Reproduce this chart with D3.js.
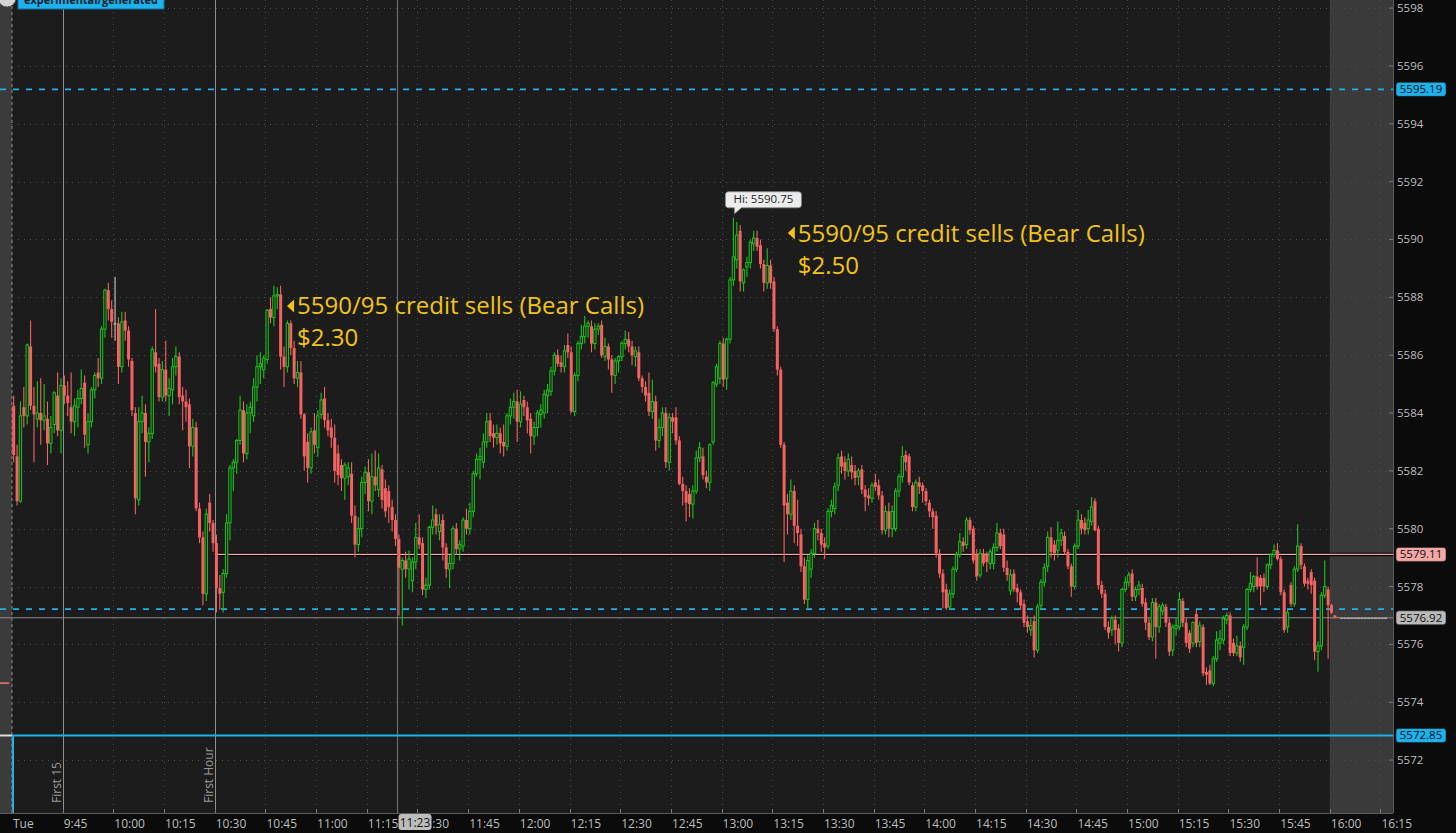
<!DOCTYPE html>
<html><head><meta charset="utf-8">
<script src="https://cdn.jsdelivr.net/npm/d3@7"></script>
<style>
html,body{margin:0;padding:0;background:#0c0c0c;overflow:hidden}
svg{display:block;font-family:"Open Sans",sans-serif}
</style></head><body>
<svg id="chart" width="1456" height="833"></svg>
<script>
// ---- 1-minute candles, 9:30 onward (index = minutes after 9:30) ----
const opens = [
5584.25,5582.5,5580.95,5584.2,5583.9,5586.3,5584.25,5583.8,5584.0,5583.75,
5583.8,5582.95,5583.6,5584.6,5583.4,5584.95,5584.6,5584.2,5583.7,5584.2,
5584.5,5585.05,5582.9,5583.7,5584.8,5585.4,5585.2,5586.9,5588.25,5587.6,
5587.1,5587.1,5585.6,5587.2,5586.85,5585.8,5584.0,5581.0,5583.7,5584.0,
5583.0,5583.3,5586.1,5585.7,5584.55,5585.5,5584.6,5584.8,5585.6,5585.95,
5584.6,5584.4,5584.3,5582.85,5583.5,5580.7,5579.7,5577.75,5580.9,5580.2,
5579.5,5577.95,5577.8,5578.45,5580.2,5582.1,5582.3,5583.05,5584.1,5582.6,
5584.0,5583.9,5584.9,5585.6,5585.5,5585.85,5587.6,5587.3,5588.05,5588.1,
5585.95,5585.6,5587.1,5586.25,5585.2,5585.4,5583.95,5583.0,5582.1,5583.4,
5582.8,5583.95,5584.5,5583.75,5583.5,5583.15,5582.6,5582.2,5581.75,5581.8,
5581.9,5580.45,5579.45,5580.0,5581.6,5581.95,5580.95,5581.8,5581.35,5582.05,
5581.4,5581.3,5580.75,5580.3,5579.65,5578.6,5578.9,5578.6,5578.2,5578.85,
5579.7,5579.5,5577.9,5578.05,5580.05,5580.5,5579.9,5580.3,5579.35,5578.6,
5578.8,5580.0,5579.3,5579.4,5580.3,5580.0,5580.6,5581.9,5582.4,5582.3,
5583.0,5583.75,5583.3,5583.15,5583.3,5583.0,5582.85,5583.9,5584.2,5584.4,
5583.7,5584.45,5584.2,5583.8,5583.2,5583.5,5583.95,5584.0,5584.6,5584.75,
5585.45,5586.0,5585.75,5585.6,5586.35,5586.1,5584.05,5585.3,5586.4,5586.65,
5587.0,5587.0,5586.4,5586.9,5587.05,5585.95,5586.3,5585.85,5585.3,5585.8,
5585.95,5586.4,5586.55,5586.3,5585.95,5586.1,5585.2,5584.9,5584.7,5584.05,
5584.4,5583.05,5583.5,5584.0,5582.3,5583.85,5583.85,5583.05,5581.55,5581.3,
5581.2,5580.85,5581.3,5582.45,5582.5,5581.8,5581.6,5583.0,5585.0,5585.2,
5586.4,5585.2,5586.55,5588.6,5589.3,5590.3,5588.5,5589.05,5589.2,5589.85,
5590.05,5589.8,5589.15,5588.5,5589.1,5588.55,5586.9,5585.5,5582.9,5580.9,
5580.5,5581.3,5580.1,5579.8,5578.7,5577.55,5578.6,5579.15,5580.0,5579.85,
5579.5,5579.4,5580.6,5580.7,5581.5,5582.5,5582.3,5582.0,5582.2,5582.0,
5581.8,5582.05,5581.35,5581.15,5581.05,5581.6,5581.5,5581.15,5579.95,5580.6,
5580.0,5580.0,5581.3,5581.8,5582.55,5582.5,5581.5,5580.75,5581.6,5581.5,
5581.3,5580.9,5580.6,5580.45,5579.15,5578.45,5577.9,5577.3,5577.75,5578.6,
5579.1,5579.55,5579.45,5580.3,5580.0,5579.1,5578.4,5579.15,5579.1,5578.8,
5578.8,5579.35,5579.85,5579.8,5578.65,5577.85,5578.45,5577.95,5577.8,5577.4,
5576.8,5576.5,5576.8,5575.8,5577.35,5578.15,5578.7,5579.7,5579.45,5579.25,
5579.6,5579.75,5579.2,5578.7,5578.0,5579.4,5580.3,5580.2,5580.0,5580.25,
5580.95,5580.0,5578.05,5577.75,5576.6,5576.5,5576.85,5576.55,5576.05,5577.9,
5578.15,5578.45,5577.65,5577.9,5577.95,5577.45,5576.75,5576.25,5577.45,5576.6,
5577.15,5577.3,5576.75,5575.8,5576.55,5576.6,5577.5,5576.75,5576.4,5576.05,
5577.05,5576.1,5576.6,5575.05,5575.1,5574.65,5575.5,5576.05,5576.15,5576.85,
5577.0,5576.05,5575.7,5575.95,5575.9,5576.6,5577.9,5578.0,5578.35,5578.3,
5578.3,5578.0,5578.75,5579.1,5579.25,5578.95,5577.8,5576.6,5578.05,5577.4,
5578.6,5579.4,5578.7,5578.2,5578.5,5578.2,5575.75,5575.95,5577.7,5577.9,
5577.35,5577.0,5576.95,5576.92,5576.92,5576.92,5576.92,5576.92,5576.92,5576.92,
5576.92,5576.92,5576.92,5576.92,5576.92,5576.92,5576.92];
const highs = [
5584.6,5582.9,5584.4,5584.9,5586.4,5587.2,5584.9,5585.1,5585.2,5585.0,
5584.4,5583.9,5584.75,5585.4,5585.2,5585.3,5585.1,5585.4,5584.5,5584.8,
5585.5,5585.3,5584.0,5584.9,5585.4,5585.9,5587.0,5588.3,5588.5,5587.9,
5588.7,5587.3,5587.5,5587.5,5587.0,5585.9,5584.2,5584.2,5584.6,5584.3,
5583.5,5586.3,5587.6,5585.9,5585.8,5586.5,5585.2,5585.9,5586.3,5586.1,
5584.9,5584.8,5584.5,5583.8,5583.7,5580.9,5579.9,5580.7,5581.2,5580.3,
5579.8,5578.4,5578.6,5580.5,5582.2,5582.4,5583.1,5584.6,5584.4,5584.3,
5584.4,5585.2,5586.0,5586.1,5586.0,5587.6,5588.0,5588.4,5588.35,5588.4,
5586.3,5587.2,5587.2,5586.5,5585.8,5585.8,5584.0,5583.3,5583.5,5584.0,
5584.1,5584.7,5584.9,5584.0,5583.8,5583.6,5582.9,5582.4,5582.3,5582.3,
5582.3,5580.8,5580.4,5581.8,5582.15,5582.4,5582.6,5582.7,5582.6,5582.2,
5581.7,5581.5,5581.0,5580.5,5579.8,5579.0,5579.2,5579.25,5579.0,5580.2,
5580.5,5579.7,5578.3,5580.1,5580.8,5580.7,5580.5,5580.5,5579.5,5579.1,
5580.1,5580.2,5579.6,5580.4,5580.7,5580.9,5582.0,5582.6,5582.8,5583.3,
5584.0,5584.0,5583.6,5583.6,5583.5,5583.6,5584.0,5584.5,5584.7,5584.8,
5584.75,5584.6,5584.4,5584.0,5583.7,5584.1,5584.3,5584.8,5585.0,5585.6,
5586.1,5586.2,5586.0,5586.35,5586.75,5586.3,5585.4,5586.5,5587.05,5587.35,
5587.2,5587.2,5587.1,5587.1,5587.2,5586.6,5586.4,5586.0,5585.9,5586.0,
5586.5,5586.85,5586.8,5586.5,5586.3,5586.3,5585.3,5585.1,5585.4,5585.15,
5584.6,5583.8,5584.2,5584.2,5584.0,5584.0,5584.2,5583.2,5581.8,5581.5,
5581.4,5581.5,5582.7,5583.0,5582.8,5582.0,5582.95,5585.1,5585.7,5586.5,
5586.6,5586.6,5588.7,5590.75,5590.6,5590.5,5589.0,5589.4,5590.0,5590.3,
5590.3,5590.0,5589.3,5589.7,5589.3,5588.7,5587.0,5585.6,5583.0,5581.2,
5581.7,5581.5,5581.0,5580.0,5579.0,5579.1,5579.3,5580.2,5580.3,5580.0,
5579.7,5580.7,5581.0,5581.6,5582.6,5582.7,5582.5,5582.6,5582.5,5582.2,
5582.1,5582.2,5581.5,5581.4,5581.6,5581.9,5581.7,5581.3,5580.8,5580.9,
5580.8,5581.4,5581.9,5582.85,5582.7,5582.6,5581.6,5581.7,5581.8,5581.6,
5581.4,5581.0,5580.7,5580.6,5579.3,5578.6,5578.1,5577.9,5578.7,5579.2,
5579.85,5579.7,5580.4,5580.4,5580.1,5579.3,5579.3,5579.3,5579.2,5579.3,
5579.5,5580.2,5580.0,5580.0,5578.9,5578.6,5578.6,5578.1,5577.9,5577.55,
5577.0,5576.9,5577.0,5577.4,5578.25,5578.8,5579.9,5580.05,5579.6,5580.25,
5580.0,5579.9,5579.3,5578.8,5579.5,5580.65,5580.5,5580.4,5580.65,5581.1,
5581.05,5580.1,5578.2,5577.9,5576.8,5577.0,5577.0,5576.7,5577.95,5578.35,
5578.5,5578.6,5578.0,5578.2,5578.1,5577.6,5576.9,5577.6,5577.6,5577.4,
5577.45,5577.4,5576.9,5576.7,5576.9,5577.8,5577.6,5576.9,5576.5,5576.8,
5577.2,5576.8,5576.7,5575.2,5575.3,5575.6,5576.45,5576.5,5577.0,5577.1,
5577.1,5576.2,5576.3,5576.1,5576.7,5577.95,5578.5,5578.4,5579.0,5578.4,
5578.45,5578.8,5579.15,5579.45,5579.5,5579.05,5577.9,5577.2,5578.15,5578.7,
5580.15,5579.5,5578.8,5578.3,5578.6,5578.3,5576.1,5577.8,5578.9,5578.0,
5577.4,5577.0,5576.95,5576.92,5576.92,5576.92,5576.92,5576.92,5576.92,5576.92,
5576.92,5576.92,5576.92,5576.92,5576.92,5576.92,5576.92];
const lows = [
5582.3,5580.8,5580.9,5583.5,5583.6,5584.1,5582.3,5583.5,5582.9,5583.4,
5582.2,5582.6,5583.3,5583.2,5582.6,5584.3,5583.9,5583.3,5583.2,5583.5,
5584.3,5582.8,5582.6,5583.5,5584.5,5584.9,5585.0,5586.6,5587.2,5586.6,
5586.5,5585.0,5585.4,5586.5,5585.6,5583.9,5580.5,5580.8,5583.3,5581.8,
5582.3,5583.1,5585.4,5584.4,5584.4,5584.4,5583.9,5584.3,5585.3,5584.3,
5583.4,5583.7,5582.1,5582.5,5580.6,5579.5,5577.35,5577.5,5579.9,5579.2,
5577.1,5577.2,5577.1,5578.3,5579.6,5581.3,5581.9,5582.9,5582.3,5582.4,
5583.3,5583.7,5584.4,5585.0,5585.2,5585.7,5587.1,5587.0,5587.6,5585.5,
5584.9,5585.4,5586.0,5585.0,5584.9,5583.8,5582.0,5581.6,5581.9,5582.6,
5582.5,5583.8,5583.5,5583.2,5582.8,5581.6,5581.5,5581.3,5581.0,5581.5,
5580.2,5579.0,5579.2,5579.7,5581.2,5580.6,5580.5,5581.3,5581.1,5580.7,
5580.4,5580.2,5579.9,5579.4,5577.0,5576.65,5578.3,5577.9,5577.8,5578.6,
5579.3,5577.7,5577.6,5577.9,5579.8,5579.8,5579.6,5578.9,5578.3,5577.95,
5578.6,5579.1,5578.9,5579.2,5579.8,5579.8,5580.4,5581.8,5581.7,5582.1,
5582.8,5583.0,5582.8,5582.9,5582.6,5582.5,5582.7,5583.6,5583.8,5583.0,
5583.5,5583.9,5583.3,5582.6,5582.9,5583.2,5583.5,5583.8,5584.0,5584.6,
5585.3,5585.6,5585.4,5585.4,5585.9,5584.0,5583.9,5585.1,5586.2,5586.4,
5586.6,5586.1,5586.2,5586.7,5585.9,5585.8,5585.5,5584.7,5585.0,5585.4,
5585.8,5586.2,5586.1,5585.65,5585.6,5585.1,5584.7,5584.4,5583.9,5583.8,
5582.7,5582.8,5583.2,5582.1,5582.0,5583.3,5582.9,5581.5,5580.8,5580.25,
5580.4,5580.35,5581.2,5582.3,5581.7,5581.4,5581.3,5582.9,5584.9,5585.0,
5584.9,5584.8,5586.4,5588.4,5589.0,5588.2,5588.2,5588.7,5589.0,5589.6,
5589.6,5589.0,5588.2,5588.3,5588.3,5586.8,5585.3,5582.8,5578.85,5579.8,
5580.3,5579.5,5579.4,5578.5,5577.4,5577.25,5578.3,5579.0,5579.6,5579.2,
5578.95,5579.3,5580.4,5580.5,5581.3,5581.9,5581.7,5581.8,5581.7,5581.5,
5581.5,5581.2,5580.6,5580.8,5580.9,5581.3,5581.0,5579.8,5579.8,5579.7,
5579.7,5579.9,5581.1,5581.6,5582.0,5581.5,5580.6,5580.6,5581.2,5580.9,
5580.8,5580.4,5580.0,5579.0,5578.3,5577.25,5577.2,5577.2,5577.6,5578.5,
5579.0,5579.2,5579.3,5579.8,5578.8,5578.2,5578.3,5578.7,5578.5,5578.6,
5578.6,5579.2,5579.3,5578.5,5578.2,5577.7,5577.8,5577.45,5577.2,5576.6,
5576.4,5576.3,5575.55,5575.7,5577.2,5578.0,5578.5,5579.0,5578.9,5579.0,
5579.4,5579.1,5578.6,5577.65,5577.9,5579.3,5579.8,5579.8,5579.8,5580.1,
5579.9,5577.9,5577.6,5576.5,5576.2,5576.3,5576.0,5575.75,5575.9,5577.8,
5578.0,5577.5,5577.5,5577.7,5577.3,5576.5,5576.15,5576.1,5575.5,5576.4,
5577.0,5576.6,5575.6,5575.6,5576.3,5576.5,5576.6,5575.9,5575.7,5575.9,
5575.9,5575.9,5574.9,5574.6,5574.6,5574.55,5575.4,5575.8,5576.0,5576.7,
5575.6,5575.6,5575.6,5575.4,5575.3,5576.5,5577.8,5577.8,5577.9,5577.35,
5577.8,5577.9,5578.6,5579.0,5578.9,5577.7,5576.4,5576.4,5577.3,5577.3,
5578.5,5578.6,5578.0,5577.9,5577.75,5575.45,5575.05,5575.8,5577.6,5575.5,
5577.05,5576.9,5576.92,5576.92,5576.92,5576.92,5576.92,5576.92,5576.92,5576.92,
5576.92,5576.92,5576.92,5576.92,5576.92,5576.92,5576.92];
const closes = [
5582.55,5580.95,5583.9,5583.9,5586.35,5584.25,5583.95,5584.0,5583.75,5583.9,
5582.95,5583.5,5584.7,5583.4,5584.95,5584.6,5584.35,5583.7,5584.25,5584.5,
5584.85,5583.25,5583.7,5584.8,5585.3,5585.2,5586.9,5588.25,5587.6,5587.15,
5587.1,5585.6,5587.15,5586.85,5585.85,5584.1,5581.05,5583.7,5584.0,5583.0,
5583.3,5586.2,5585.6,5584.55,5585.5,5584.6,5584.85,5585.6,5585.95,5584.55,
5584.4,5584.2,5582.85,5583.5,5580.7,5579.7,5577.75,5580.5,5580.2,5579.5,
5577.95,5577.75,5578.45,5580.2,5582.1,5582.3,5583.05,5584.1,5582.6,5584.0,
5584.2,5584.9,5585.6,5585.7,5585.9,5587.55,5587.3,5588.05,5588.1,5585.95,
5585.6,5587.1,5586.25,5585.2,5585.4,5583.95,5582.5,5582.1,5583.35,5582.9,
5583.9,5584.45,5583.75,5583.4,5583.15,5582.0,5581.85,5581.75,5582.2,5582.1,
5580.45,5579.45,5580.0,5581.6,5581.95,5580.95,5581.8,5581.5,5582.1,5581.0,
5580.6,5580.75,5580.3,5579.65,5578.65,5578.9,5578.6,5578.95,5578.85,5579.7,
5579.45,5577.9,5578.05,5580.05,5580.3,5580.1,5580.15,5579.35,5578.6,5578.8,
5580.0,5579.3,5579.45,5580.3,5580.0,5580.6,5581.9,5582.4,5582.5,5583.0,
5583.7,5583.2,5583.15,5583.3,5582.95,5582.85,5583.9,5584.2,5584.4,5583.7,
5584.3,5584.2,5583.75,5583.2,5583.5,5584.0,5584.1,5584.65,5584.8,5585.45,
5586.0,5585.7,5585.6,5586.15,5586.1,5584.05,5585.3,5586.4,5586.65,5587.0,
5587.1,5586.4,5586.9,5587.0,5586.0,5586.3,5585.85,5585.3,5585.8,5585.95,
5586.4,5586.55,5586.3,5586.0,5586.15,5585.2,5584.9,5584.6,5584.05,5584.4,
5583.05,5583.5,5584.0,5582.3,5583.85,5583.7,5583.05,5581.55,5581.3,5580.9,
5580.85,5581.3,5582.45,5582.8,5581.85,5581.6,5582.9,5585.05,5585.6,5586.4,
5585.15,5586.55,5588.6,5589.4,5590.15,5588.55,5588.95,5589.2,5589.9,5590.05,
5589.75,5589.15,5588.5,5589.1,5588.5,5586.9,5585.5,5582.9,5580.8,5580.5,
5581.3,5580.1,5579.85,5578.7,5577.55,5578.9,5579.15,5580.0,5579.85,5579.45,
5579.35,5580.6,5580.8,5581.45,5582.45,5582.15,5582.0,5582.4,5581.95,5581.75,
5582.0,5581.35,5581.1,5581.05,5581.5,5581.45,5581.15,5579.95,5580.6,5580.0,
5580.6,5581.3,5581.8,5582.5,5582.3,5581.6,5580.75,5581.6,5581.45,5581.3,
5580.95,5580.6,5580.4,5579.15,5578.45,5577.8,5577.25,5577.75,5578.6,5579.1,
5579.55,5579.4,5580.3,5579.95,5578.9,5578.35,5579.15,5578.8,5578.85,5579.2,
5579.35,5579.85,5579.4,5578.65,5578.4,5578.4,5577.9,5577.8,5577.35,5576.75,
5576.6,5576.65,5575.8,5577.3,5578.15,5578.65,5579.7,5579.2,5579.15,5579.6,
5579.85,5579.2,5578.7,5578.0,5579.4,5580.3,5580.0,5579.95,5580.3,5580.75,
5579.95,5578.05,5577.75,5576.6,5576.4,5576.9,5576.5,5576.05,5577.9,5578.15,
5578.4,5577.65,5577.9,5578.05,5577.4,5576.75,5576.25,5577.45,5576.6,5577.3,
5577.35,5576.75,5575.75,5576.6,5576.65,5577.55,5576.75,5576.05,5575.85,5576.75,
5576.05,5576.65,5575.0,5574.95,5574.65,5575.5,5576.15,5576.2,5576.9,5577.0,
5575.7,5575.7,5575.95,5575.55,5576.6,5577.9,5578.1,5578.35,5578.0,5578.0,
5578.0,5578.75,5579.1,5579.25,5578.95,5577.8,5576.5,5577.1,5577.4,5578.6,
5579.4,5578.75,5578.1,5578.1,5578.05,5575.75,5575.95,5577.7,5578.0,5577.35,
5577.1,5576.92,5576.92,5576.92,5576.92,5576.92,5576.92,5576.92,5576.92,5576.92,
5576.92,5576.92,5576.92,5576.92,5576.92,5576.92,5576.92];

// ---- axes ----
const priceTicks = [5572,5574,5576,5578,5580,5582,5584,5586,5588,5590,5592,5594,5596,5598];
const timeTickMinutes = [0,15,30,45,60,75,90,105,120,135,150,165,180,195,210,225,240,255,270,285,300,315,330,345,360,375,390,405];
const timeTickLabels = ["Tue","9:45","10:00","10:15","10:30","10:45","11:00","11:15","11:30","11:45","12:00","12:15","12:30","12:45","13:00","13:15","13:30","13:45","14:00","14:15","14:30","14:45","15:00","15:15","15:30","15:45","16:00","16:15"];

// ---- study / price levels ----
const levelValues = [5595.19, 5577.22, 5579.11, 5576.92, 5572.85];
const levelLabels = ["5595.19", null, "5579.11", "5576.92", "5572.85"];
const levelStarts = [0, 0, 60, 0, 0];          // minute where each level begins
const markerMinutes = [15, 60];                 // First 15 / First Hour
const markerLabels = ["First 15", "First Hour"];
const cursorMinute = 113.5, cursorLabel = "11:23";
const sessionEndMinute = 390;

// ---- notes ----
const noteMinutes = [81.4, 229.6];
const notePrices = [5587.70, 5590.22];
const noteLine1 = ["5590/95 credit sells (Bear Calls)", "5590/95 credit sells (Bear Calls)"];
const noteLine2 = ["$2.30", "$2.50"];

// ================= drawing =================
const svg = d3.select("#chart");
const L = 12, R = 1393, T = 0, B = 813;
const x = d3.scaleLinear().domain([0, 408.7]).range([L, R]);
const y = d3.scaleLinear().domain([5570.17, 5598.28]).range([B, T]);

const C = {bg:"#1c1c1c", outer:"#0b0b0b", strip:"#3b3b3b", ah:"#3a3a3a", grid:"#4d4d4d",
  up:"#18c818", dn:"#f46262", cyan:"#1db2ec", pink:"#f2a6a6", gray:"#a3a3a3", note:"#f2c414", axisTxt:"#bdbdbd"};

svg.append("rect").attr("width",1456).attr("height",833).attr("fill",C.outer);
svg.append("rect").attr("x",L).attr("y",T).attr("width",R-L).attr("height",B-T).attr("fill",C.bg);
svg.append("rect").attr("x",0).attr("y",T).attr("width",L).attr("height",B-T).attr("fill",C.strip);
svg.append("line").attr("x1",L).attr("x2",L).attr("y1",T).attr("y2",B)
  .attr("stroke","#8a8a8a").attr("stroke-dasharray","3,3");
svg.append("rect").attr("x",x(sessionEndMinute)).attr("y",T).attr("width",R-x(sessionEndMinute)).attr("height",B-T).attr("fill",C.ah);

// dotted grid
const grid = svg.append("g");
grid.selectAll(".hg").data(priceTicks).join("line")
  .attr("x1",L).attr("x2",R).attr("y1",d=>Math.round(y(d))+0.5).attr("y2",d=>Math.round(y(d))+0.5)
  .attr("stroke",C.grid).attr("stroke-dasharray","1,5");
grid.selectAll(".vg").data(timeTickMinutes.slice(1)).join("line")
  .attr("x1",d=>Math.round(x(d))+0.5).attr("x2",d=>Math.round(x(d))+0.5).attr("y1",T).attr("y2",B)
  .attr("stroke",C.grid).attr("stroke-dasharray","1,5");

// marker verticals
svg.selectAll(".mk").data(markerMinutes).join("line")
  .attr("x1",d=>Math.round(x(d))+0.5).attr("x2",d=>Math.round(x(d))+0.5).attr("y1",T).attr("y2",B)
  .attr("stroke","#8f8f8f").attr("stroke-width",1);
svg.selectAll(".mkt").data(markerMinutes).join("text")
  .attr("transform",d=>`translate(${x(d)-2},${B-10}) rotate(-90)`)
  .attr("fill","#9a9a9a").attr("font-size",12).text((d,i)=>markerLabels[i]);
svg.append("line").attr("x1",x(cursorMinute)+2).attr("x2",x(cursorMinute)+2).attr("y1",T).attr("y2",B)
  .attr("stroke","#6c6c6c").attr("stroke-width",1.2);

// level lines
const lv = svg.append("g");
levelValues.forEach((v,i)=>{
  const yy = y(v), x0 = x(levelStarts[i]);
  if (i===0 || i===1) {
    lv.append("line").attr("x1",0).attr("x2",R).attr("y1",yy).attr("y2",yy)
      .attr("stroke",C.cyan).attr("stroke-width",1.6).attr("stroke-dasharray","6,7");
  } else if (i===2) {
    lv.append("line").attr("x1",x0).attr("x2",R).attr("y1",yy).attr("y2",yy).attr("stroke","#000").attr("stroke-width",3.5);
    lv.append("line").attr("x1",x0).attr("x2",R).attr("y1",yy).attr("y2",yy).attr("stroke",C.pink).attr("stroke-width",1.3);
  } else if (i===3) {
    lv.append("line").attr("x1",0).attr("x2",R).attr("y1",yy).attr("y2",yy).attr("stroke","#8e8e8e").attr("stroke-width",1);
  } else {
    lv.append("path").attr("d",`M${x0+1},${B}L${x0+1},${yy}L${R},${yy}`)
      .attr("fill","none").attr("stroke",C.cyan).attr("stroke-width",2);
    lv.append("line").attr("x1",0).attr("x2",L).attr("y1",yy).attr("y2",yy).attr("stroke","#dddddd").attr("stroke-width",2);
  }
});
svg.append("line").attr("x1",0).attr("x2",9).attr("y1",y(5574.66)).attr("y2",y(5574.66)).attr("stroke","#f07a7a").attr("stroke-width",1.5);

// candles
const idx = d3.range(opens.length);
const cg = svg.append("g");
const colorOf = i => closes[i]>opens[i] ? C.up : (closes[i]<opens[i] ? C.dn : "#c8c8c8");
cg.selectAll(".wick").data(idx).join("line")
  .attr("x1",i=>x(i+0.5)).attr("x2",i=>x(i+0.5))
  .attr("y1",i=>y(highs[i])).attr("y2",i=>y(lows[i]))
  .attr("stroke",colorOf).attr("stroke-width",1.1);
cg.selectAll(".body").data(idx).join("rect")
  .attr("x",i=>closes[i]>opens[i] ? x(i+0.5)-1.15 : x(i+0.5)-1.5)
  .attr("width",i=>closes[i]>opens[i] ? 2.3 : 3.0)
  .attr("y",i=>y(Math.max(opens[i],closes[i])))
  .attr("height",i=>Math.max(1, Math.abs(y(opens[i])-y(closes[i]))))
  .attr("fill",i=>closes[i]>opens[i] ? C.bg : colorOf(i))
  .attr("stroke",i=>closes[i]>opens[i] ? C.up : "none")
  .attr("stroke-width",1);

// Hi bubble
const hiIdx = d3.maxIndex(highs);
const hx = x(hiIdx+0.5), hy = y(highs[hiIdx]) - 4;
const hb = svg.append("g");
hb.append("path").attr("d",`M${hx-5},${hy-22}h70a3,3 0 0 1 3,3v10a3,3 0 0 1 -3,3h-57l-7,6l0,-6h-6a3,3 0 0 1 -3,-3v-10a3,3 0 0 1 3,-3z`)
  .attr("fill","#ececec").attr("stroke","#8a8a8a").attr("stroke-width",0.8);
hb.append("text").attr("x",hx+30).attr("y",hy-10.5).attr("text-anchor","middle")
  .attr("font-size",11.5).attr("fill","#1e1e1e").text("Hi: " + highs[hiIdx].toFixed(2));

// notes
noteMinutes.forEach((m,i)=>{
  const nx = x(m), ny = y(notePrices[i]);
  svg.append("path").attr("d",`M${nx},${ny}L${nx+7},${ny-6.5}L${nx+7},${ny+6.5}Z`).attr("fill",C.note);
  svg.append("text").attr("x",nx+10).attr("y",ny+8.5).attr("font-size",24).attr("fill",C.note).text(noteLine1[i]);
  svg.append("text").attr("x",nx+10).attr("y",ny+40.5).attr("font-size",24).attr("fill",C.note).text(noteLine2[i]);
});

// axes frame
svg.append("rect").attr("x",R).attr("y",0).attr("width",1456-R).attr("height",833).attr("fill",C.outer);
svg.append("rect").attr("x",0).attr("y",B).attr("width",1456).attr("height",833-B).attr("fill",C.outer);
svg.append("line").attr("x1",R+0.5).attr("x2",R+0.5).attr("y1",0).attr("y2",B).attr("stroke","#5a5a5a");
svg.append("line").attr("x1",0).attr("x2",R).attr("y1",B+0.5).attr("y2",B+0.5).attr("stroke","#5a5a5a");

// right axis
const ra = svg.append("g");
ra.selectAll("line").data(priceTicks).join("line")
  .attr("x1",R-4).attr("x2",R).attr("y1",d=>y(d)).attr("y2",d=>y(d)).attr("stroke","#7a7a7a");
ra.selectAll("text").data(priceTicks).join("text")
  .attr("x",R+4).attr("y",d=>y(d)+4).attr("font-size",11.5).attr("fill",C.axisTxt).text(d=>d);

// price label boxes
const boxFill = [C.cyan, null, "#f4a7a7", "#b9b9b9", C.cyan];
levelValues.forEach((v,i)=>{
  if(!levelLabels[i]) return;
  const yy = y(v);
  svg.append("rect").attr("x",R+3).attr("y",yy-7).attr("width",50).attr("height",14).attr("rx",3)
    .attr("fill",boxFill[i]).attr("stroke","#222").attr("stroke-width",0.6);
  svg.append("text").attr("x",R+28).attr("y",yy+4).attr("text-anchor","middle")
    .attr("font-size",11.5).attr("fill","#101010").text(levelLabels[i]);
});

// bottom axis
const ba = svg.append("g");
ba.selectAll("line").data(timeTickMinutes).join("line")
  .attr("x1",d=>Math.round(x(d))+0.5).attr("x2",d=>Math.round(x(d))+0.5).attr("y1",B-4).attr("y2",B)
  .attr("stroke","#7a7a7a");
ba.selectAll("text").data(timeTickMinutes).join("text")
  .attr("x",d=>x(d)+1).attr("y",B+14.5).attr("font-size",12).attr("fill",C.axisTxt)
  .text((d,i)=>timeTickLabels[i]);
const cx0 = x(cursorMinute)+2;
svg.append("rect").attr("x",cx0+1).attr("y",B+1).attr("width",33).attr("height",16).attr("rx",3).attr("fill","#bdbdbd");
svg.append("text").attr("x",cx0+17.5).attr("y",B+14).attr("text-anchor","middle").attr("font-size",12).attr("fill","#111").text(cursorLabel);

// top-left badge
svg.append("circle").attr("cx",7).attr("cy",-2).attr("r",9).attr("fill","#d4d4d4").attr("stroke","#555");
svg.append("rect").attr("x",18).attr("y",-9).attr("width",146).attr("height",18).attr("fill",C.cyan).attr("stroke","#0e6f99");
svg.append("text").attr("x",24).attr("y",4).attr("font-size",12.5).attr("font-weight","bold").attr("fill","#0a1e2a")
  .attr("textLength",134).attr("lengthAdjust","spacingAndGlyphs").text("experimental/generated");
</script>
</body></html>
